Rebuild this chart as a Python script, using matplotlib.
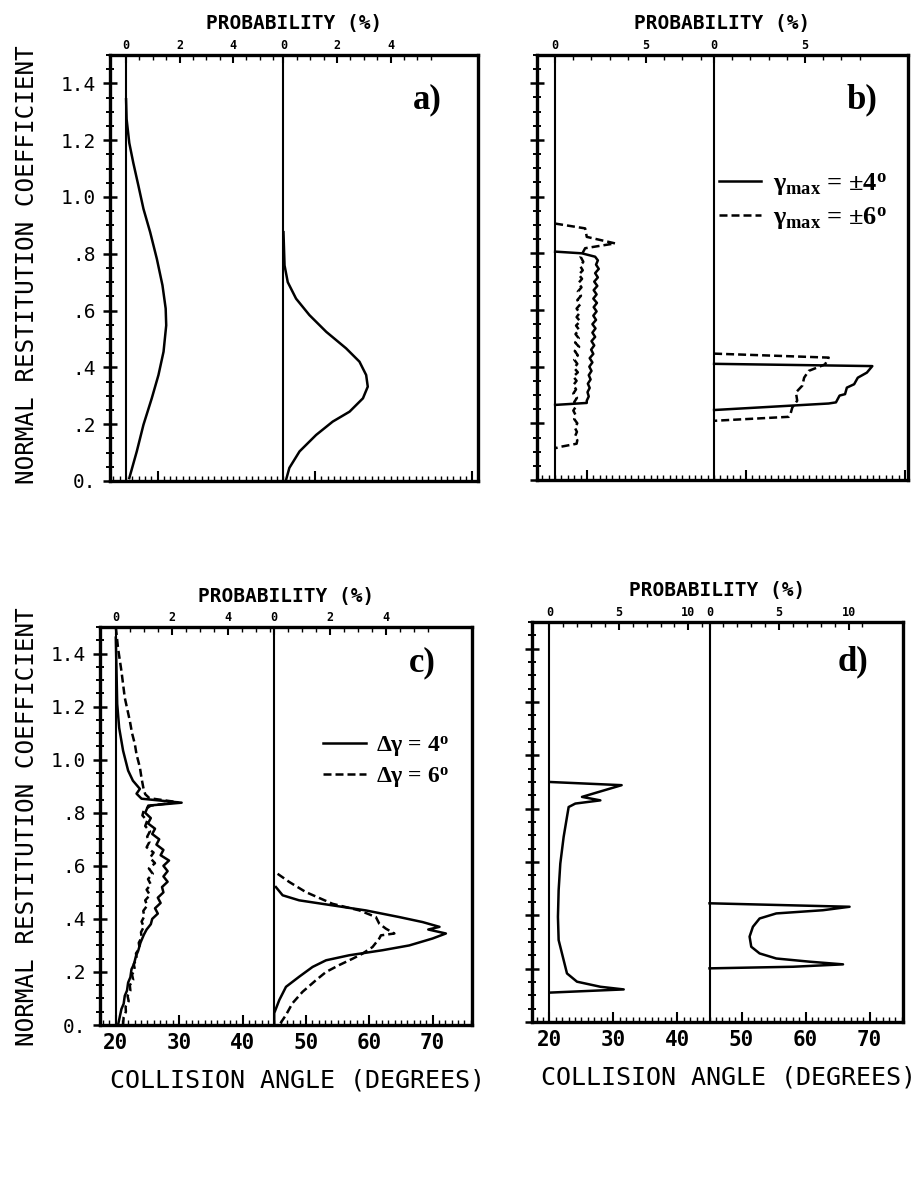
import matplotlib
matplotlib.use("Agg")
import matplotlib.pyplot as plt
from matplotlib.ticker import MultipleLocator

plt.rcParams['mathtext.fontset'] = 'custom'
plt.rcParams['mathtext.rm'] = 'Liberation Serif:bold'
plt.rcParams['mathtext.it'] = 'Liberation Serif:bold'
plt.rcParams['mathtext.bf'] = 'Liberation Serif:bold'

MONO = 'DejaVu Sans Mono'
SERIF = 'Liberation Serif'

# y = normal restitution coefficient, p = probability (%)
# two distributions per panel, drawn on baselines at 20 and 45 degrees
ytick_vals = [0, 0.2, 0.4, 0.6, 0.8, 1.0, 1.2, 1.4]
ytick_text = ['0.', '.2', '.4', '.6', '.8', '1.0', '1.2', '1.4']
angle_ticks = [20, 30, 40, 50, 60, 70]
base_angles = [20, 45]

# panel a
a_left_y = [1.344, 1.274, 1.19, 1.12, 1.04, 0.958, 0.876, 0.782, 0.689, 0.607, 0.548,
            0.455, 0.373, 0.291, 0.198, 0.104, 0.01]
a_left_p = [0.0, 0.02, 0.12, 0.27, 0.46, 0.65, 0.9, 1.15, 1.36, 1.48, 1.5,
            1.4, 1.21, 0.96, 0.65, 0.4, 0.12]
a_right_y = [0.876, 0.759, 0.70, 0.642, 0.584, 0.525, 0.467, 0.42, 0.373, 0.332, 0.291,
             0.244, 0.209, 0.162, 0.104, 0.046, 0.005]
a_right_p = [0.0, 0.04, 0.16, 0.47, 0.97, 1.6, 2.34, 2.84, 3.09, 3.15, 2.97,
             2.47, 1.84, 1.22, 0.6, 0.22, 0.1]

# panel b
b_ls_y = [0.806, 0.800, 0.788, 0.775, 0.76, 0.745, 0.73, 0.715, 0.70, 0.685, 0.67, 0.655,
          0.64, 0.625, 0.61, 0.595, 0.58, 0.565, 0.55, 0.535, 0.52, 0.505, 0.49, 0.475,
          0.46, 0.445, 0.43, 0.415, 0.40, 0.385, 0.37, 0.355, 0.34, 0.325, 0.31, 0.295,
          0.28, 0.272, 0.265]
b_ls_p = [0.0, 1.47, 2.2, 2.35, 2.25, 2.40, 2.2, 2.35, 2.15, 2.32, 2.12, 2.28,
          2.1, 2.3, 2.12, 2.28, 2.1, 2.25, 2.05, 2.22, 2.05, 2.2, 2.0, 2.15,
          1.98, 2.1, 1.9, 2.05, 1.88, 2.0, 1.85, 1.95, 1.8, 1.9, 1.78, 1.85,
          1.74, 1.74, 0.0]
b_ld_y = [0.905, 0.888, 0.858, 0.835, 0.818, 0.80, 0.788, 0.77, 0.755, 0.74, 0.725, 0.71,
          0.695, 0.68, 0.665, 0.65, 0.635, 0.62, 0.605, 0.59, 0.575, 0.56, 0.545, 0.53,
          0.515, 0.50, 0.485, 0.47, 0.455, 0.44, 0.425, 0.41, 0.395, 0.38, 0.365, 0.35,
          0.335, 0.32, 0.305, 0.29, 0.275, 0.26, 0.245, 0.23, 0.215, 0.20, 0.185, 0.17,
          0.155, 0.14, 0.128, 0.116, 0.112]
b_ld_p = [0.0, 1.65, 1.74, 3.3, 1.65, 1.50, 1.40, 1.55, 1.38, 1.52, 1.30, 1.48,
          1.28, 1.45, 1.25, 1.42, 1.22, 1.38, 1.18, 1.35, 1.18, 1.38, 1.15, 1.32,
          1.12, 1.30, 1.10, 1.32, 1.08, 1.25, 1.05, 1.22, 1.05, 1.25, 1.0, 1.18,
          1.0, 1.15, 1.0, 1.2, 1.05, 1.15, 1.0, 1.12, 1.05, 1.22, 1.08, 1.2,
          1.1, 1.22, 1.18, 0.2, 0.0]
b_rs_y = [0.41, 0.402, 0.379, 0.361, 0.338, 0.326, 0.303, 0.298, 0.274, 0.27, 0.247]
b_rs_p = [0.0, 8.7, 8.4, 7.9, 7.7, 7.3, 7.2, 6.9, 6.7, 6.3, 0.0]
b_rd_y = [0.446, 0.432, 0.408, 0.385, 0.361, 0.333, 0.309, 0.28, 0.256, 0.233, 0.223, 0.209]
b_rd_p = [0.0, 6.3, 6.1, 5.2, 4.95, 4.85, 4.5, 4.57, 4.3, 4.2, 4.1, 0.0]

# panel c
c_ls_y = [1.46, 1.21, 1.12, 1.034, 0.959, 0.921, 0.89, 0.872, 0.853, 0.838, 0.827, 0.80,
          0.78, 0.76, 0.74, 0.72, 0.70, 0.68, 0.66, 0.64, 0.62, 0.60, 0.58, 0.56, 0.54,
          0.52, 0.50, 0.48, 0.46, 0.44, 0.42, 0.40, 0.38, 0.36, 0.34, 0.31, 0.28, 0.26,
          0.23, 0.21, 0.18, 0.16, 0.13, 0.11, 0.08, 0.06, 0.03, 0.0]
c_ls_p = [0.0, 0.05, 0.12, 0.26, 0.44, 0.61, 0.86, 0.74, 0.92, 2.35, 1.16, 1.05,
          1.25, 1.15, 1.40, 1.30, 1.55, 1.45, 1.70, 1.60, 1.90, 1.70, 1.85, 1.70, 1.85,
          1.65, 1.70, 1.50, 1.60, 1.40, 1.50, 1.30, 1.25, 1.10, 1.0, 0.88, 0.80, 0.72,
          0.65, 0.56, 0.52, 0.44, 0.40, 0.32, 0.28, 0.2, 0.14, 0.08]
c_ld_y = [1.50, 1.42, 1.335, 1.234, 1.147, 1.10, 1.059, 1.02, 0.971, 0.93, 0.896, 0.87,
          0.855, 0.84, 0.827, 0.81, 0.79, 0.77, 0.75, 0.73, 0.71, 0.69, 0.67, 0.65,
          0.63, 0.61, 0.59, 0.57, 0.55, 0.53, 0.51, 0.49, 0.47, 0.45, 0.43, 0.41,
          0.39, 0.37, 0.35, 0.33, 0.31, 0.29, 0.27, 0.25, 0.23, 0.21, 0.19, 0.17,
          0.15, 0.13, 0.11, 0.09, 0.07, 0.05, 0.03, 0.0]
c_ld_p = [0.0, 0.08, 0.2, 0.32, 0.5, 0.58, 0.68, 0.74, 0.86, 0.92, 0.98, 1.05,
          1.2, 2.2, 1.25, 1.0, 0.95, 1.12, 1.05, 1.22, 1.12, 1.20, 1.10, 1.35,
          1.22, 1.40, 1.18, 1.32, 1.15, 1.25, 1.10, 1.22, 1.05, 1.12, 0.98, 1.02,
          0.92, 1.00, 0.90, 0.92, 0.82, 0.85, 0.72, 0.75, 0.64, 0.68, 0.58, 0.62,
          0.50, 0.52, 0.42, 0.46, 0.35, 0.36, 0.28, 0.26]
c_rs_y = [0.52, 0.489, 0.47, 0.451, 0.432, 0.407, 0.388, 0.37, 0.36, 0.345, 0.326,
          0.30, 0.282, 0.263, 0.244, 0.219, 0.182, 0.144, 0.094, 0.045, 0.0]
c_rs_p = [0.06, 0.3, 0.89, 2.08, 3.27, 4.46, 5.3, 5.9, 5.5, 6.13, 5.65,
          4.82, 3.87, 2.68, 1.85, 1.37, 0.89, 0.42, 0.18, 0.0, 0.0]
c_rd_y = [0.57, 0.539, 0.501, 0.457, 0.432, 0.407, 0.382, 0.363, 0.345, 0.338, 0.326,
          0.294, 0.269, 0.25, 0.226, 0.2, 0.169, 0.125, 0.082, 0.038, 0.0]
c_rd_p = [0.12, 0.54, 1.13, 2.08, 3.04, 3.63, 3.75, 3.99, 4.29, 3.81, 3.75,
          3.51, 3.15, 2.8, 2.32, 1.85, 1.49, 1.01, 0.65, 0.42, 0.18]

# panel d
d_left_y = [0.90, 0.888, 0.844, 0.831, 0.819, 0.806, 0.769, 0.694, 0.594, 0.494, 0.394,
            0.307, 0.232, 0.182, 0.151, 0.132, 0.122, 0.11]
d_left_p = [0.0, 5.2, 2.35, 3.67, 1.87, 1.39, 1.27, 1.03, 0.79, 0.67, 0.62,
            0.67, 1.03, 1.27, 1.99, 3.67, 5.35, 0.0]
d_right_y = [0.445, 0.432, 0.419, 0.407, 0.388, 0.357, 0.32, 0.282, 0.257, 0.238, 0.226,
             0.216, 0.207, 0.201]
d_right_p = [0.0, 10.07, 8.15, 4.8, 3.6, 3.12, 2.88, 3.0, 3.6, 4.8, 7.2,
             9.6, 6.0, 0.0]

fig = plt.figure(figsize=(9.23, 11.82), dpi=100)

panels = [
    dict(pos=[0.1192, 0.5931, 0.3987, 0.3604], xlim=(17.45, 75.9), scale=4.25,
         top=[0, 2, 4], tminor=0.5, letter='a)', lpos=(0.861, 0.894), bottom=False,
         curves=[(a_left_y, a_left_p, 0, '-'), (a_right_y, a_right_p, 1, '-')]),
    dict(pos=[0.5818, 0.5939, 0.402, 0.3596], xlim=(17.15, 75.5), scale=2.86,
         top=[0, 5], tminor=1.0, letter='b)', lpos=(0.876, 0.894), bottom=False,
         curves=[(b_ls_y, b_ls_p, 0, '-'), (b_ld_y, b_ld_p, 0, '--'),
                 (b_rs_y, b_rs_p, 1, '-'), (b_rd_y, b_rd_p, 1, '--')],
         legend=[r'$\gamma_{\mathbf{max}}$ = ±4$^{\mathbf{o}}$',
                 r'$\gamma_{\mathbf{max}}$ = ±6$^{\mathbf{o}}$'],
         legsize=19, legpos=(0.49, 0.727), hlen=1.6, lspace=0.28),
    dict(pos=[0.1083, 0.1328, 0.403, 0.3367], xlim=(17.5, 76.2), scale=4.42,
         top=[0, 2, 4], tminor=0.5, letter='c)', lpos=(0.866, 0.91), bottom=True,
         curves=[(c_ls_y, c_ls_p, 0, '-'), (c_ld_y, c_ld_p, 0, '--'),
                 (c_rs_y, c_rs_p, 1, '-'), (c_rd_y, c_rd_p, 1, '--')],
         legend=['Δγ = 4$^{\\mathbf{o}}$', 'Δγ = 6$^{\\mathbf{o}}$'],
         legsize=17, legpos=(0.6, 0.732), hlen=1.8, lspace=0.25),
    dict(pos=[0.5764, 0.1354, 0.402, 0.3384], xlim=(17.3, 75.2), scale=2.17,
         top=[0, 5, 10], tminor=1.0, letter='d)', lpos=(0.865, 0.90), bottom=True,
         curves=[(d_left_y, d_left_p, 0, '-'), (d_right_y, d_right_p, 1, '-')]),
]

for i, pn in enumerate(panels):
    ax = fig.add_axes(pn['pos'])
    ax.set_xlim(*pn['xlim'])
    ax.set_ylim(0, 1.5)
    for b in base_angles:
        ax.axvline(b, color='black', lw=1.5)
    handles = []
    for ys, ps, k, ls in pn['curves']:
        xs = [base_angles[k] + p * pn['scale'] for p in ps]
        ln, = ax.plot(xs, ys, color='black', lw=1.8, ls=ls,
                      dashes=(3.2, 1.6) if ls == '--' else (None, None))
        if k == 0:
            handles.append(ln)

    for sp in ax.spines.values():
        sp.set_linewidth(2.4)

    # left axis
    ax.set_yticks(ytick_vals)
    ax.yaxis.set_minor_locator(MultipleLocator(0.05))
    ax.tick_params(axis='y', which='major', direction='inout', length=10, width=1.8, pad=5)
    ax.tick_params(axis='y', which='minor', direction='inout', length=5.5, width=1.4)
    if i % 2 == 0:
        ax.set_yticklabels(ytick_text, fontfamily=MONO, fontsize=14)
    else:
        ax.set_yticklabels([])

    # bottom axis
    ax.xaxis.set_minor_locator(MultipleLocator(1))
    ax.tick_params(axis='x', which='major', direction='in', length=7, width=1.5, pad=6)
    ax.tick_params(axis='x', which='minor', direction='in', length=3.5, width=1.0)
    if pn['bottom']:
        ax.set_xticks(angle_ticks)
        ax.set_xticklabels([str(t) for t in angle_ticks], fontfamily=MONO,
                           fontsize=15, fontweight='bold')
        ax.set_xlabel('COLLISION ANGLE (DEGREES)', fontfamily=MONO, fontsize=18,
                      labelpad=11, x=0.53)
    else:
        ax.set_xticks([25, 50, 75])
        ax.set_xticklabels([])

    # top probability axis
    ax2 = ax.twiny()
    ax2.set_xlim(*pn['xlim'])
    for sp in ax2.spines.values():
        sp.set_visible(False)
    major = []
    labels = []
    minor = []
    for b in base_angles:
        for p in pn['top']:
            major.append(b + p * pn['scale'])
            labels.append(str(p))
        q = 0.0
        while b + q * pn['scale'] < min(b + 25, pn['xlim'][1]) - 0.3:
            minor.append(b + q * pn['scale'])
            q += pn['tminor']
    ax2.set_xticks(major)
    ax2.set_xticks(minor, minor=True)
    ax2.set_xticklabels(labels, fontfamily=MONO, fontsize=8.5, fontweight='bold')
    ax2.tick_params(axis='x', which='major', direction='in', length=6, width=1.5, pad=2)
    ax2.tick_params(axis='x', which='minor', direction='in', length=3.5, width=1.0)
    ax2.set_xlabel('PROBABILITY (%)', fontfamily=MONO, fontsize=14,
                   fontweight='bold', labelpad=7)

    ax.text(pn['lpos'][0], pn['lpos'][1], pn['letter'], transform=ax.transAxes,
            ha='center', va='center', fontfamily=SERIF, fontweight='bold', fontsize=25)

    if 'legend' in pn:
        ax.legend(handles, pn['legend'], loc='upper left', bbox_to_anchor=pn['legpos'],
                  frameon=False, handlelength=pn['hlen'], handletextpad=0.45,
                  labelspacing=pn['lspace'], borderpad=0, borderaxespad=0,
                  prop={'family': SERIF, 'weight': 'bold', 'size': pn['legsize']})

fig.text(27 / 923, 1 - 265 / 1182, 'NORMAL RESTITUTION COEFFICIENT', rotation=90,
         ha='center', va='center', fontfamily=MONO, fontsize=17.5)
fig.text(27 / 923, 1 - 827 / 1182, 'NORMAL RESTITUTION COEFFICIENT', rotation=90,
         ha='center', va='center', fontfamily=MONO, fontsize=17.5)

fig.savefig('out.png', dpi=100)
